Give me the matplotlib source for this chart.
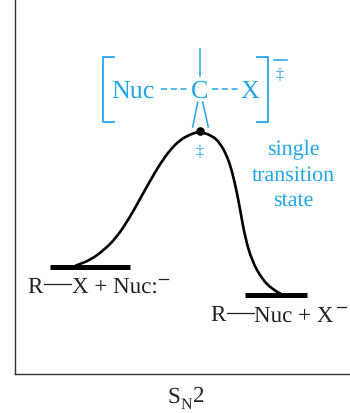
import matplotlib
matplotlib.use("Agg")
import matplotlib.pyplot as plt
import matplotlib.patheffects as pe
from matplotlib.path import Path
from matplotlib.patches import PathPatch

curve_x = [76, 80, 90, 103, 117, 130, 140, 150, 160, 170, 180, 190, 199, 212, 220, 227, 232, 237, 240, 245, 252, 262, 272, 283]
curve_y = [266.5, 265, 261, 252, 238, 218, 200, 182, 165, 151, 141, 135.5, 132.5, 136.5, 144, 157, 172, 194, 210, 238, 262, 280, 290, 296]
reactant_level = (50, 130, 267.5)
product_level = (245, 307, 295.7)
peak = (200, 132)

BLUE = "#23A6E6"
DARK = "#222222"
plt.rcParams["font.family"] = ["Liberation Serif", "DejaVu Serif"]
plt.rcParams["text.hinting"] = "no_hinting"
plt.rcParams["text.hinting_factor"] = 1

fig = plt.figure(figsize=(3.5, 4.14), dpi=100)
ax = fig.add_axes([15.5 / 350, (414 - 374.5) / 414, (350 - 15.5) / 350, 374.5 / 414])
ax.set_xlim(15.5, 350)
ax.set_ylim(374.5, 0)
ax.set_xticks([])
ax.set_yticks([])
for s in ("top", "right"):
    ax.spines[s].set_visible(False)
for s in ("left", "bottom"):
    ax.spines[s].set_linewidth(1.0)
    ax.spines[s].set_color("#333333")

# Energy curve drawn as a smooth quadratic path through the read points
verts = [(curve_x[0], curve_y[0])]
codes = [Path.MOVETO]
for i in range(1, len(curve_x) - 1):
    end = ((curve_x[i] + curve_x[i + 1]) / 2, (curve_y[i] + curve_y[i + 1]) / 2)
    verts += [(curve_x[i], curve_y[i]), end]
    codes += [Path.CURVE3, Path.CURVE3]
verts.append((curve_x[-1], curve_y[-1]))
codes.append(Path.LINETO)
ax.add_patch(PathPatch(Path(verts, codes), fc="none", ec="black", lw=1.9, capstyle="round"))

ax.plot(reactant_level[:2], [reactant_level[2]] * 2, color="black", lw=3.6, solid_capstyle="butt")
ax.plot(product_level[:2], [product_level[2]] * 2, color="black", lw=3.6, solid_capstyle="butt")
ax.plot([peak[0]], [peak[1]], "o", color="black", ms=6.2, mew=0)


def txt(x, y, s, size, color=DARK, ha="center"):
    ax.text(x, y, s, fontsize=size, color=color, ha=ha, va="baseline", clip_on=False)


# Bracketed transition state
txt(111.5, 98, "Nuc", 18.7, BLUE, ha="left")
txt(199.4, 98, "C", 18.7, BLUE)
txt(250, 98, "X", 18.7, BLUE)
for x0, x1 in ((160.5, 187), (212, 238)):
    ax.plot([x0, x1], [90, 90], color=BLUE, lw=1.1, dashes=(4.0, 2.4))
ax.plot([200, 200], [50, 77], color=BLUE, lw=1.1)
ax.plot([197.7, 192.7], [103, 128], color=BLUE, lw=1.1)
ax.plot([202.7, 208.3], [103, 128], color=BLUE, lw=1.1)
ax.plot([114, 102.7, 102.7, 114], [58.3, 58.3, 123.3, 123.3], color=BLUE, lw=1.3)
ax.plot([256.7, 268.3, 268.3, 256.7], [58.3, 58.3, 123.3, 123.3], color=BLUE, lw=1.3)
ax.plot([274, 287], [60.7, 60.7], color=BLUE, lw=1.1)
txt(280, 78, "\u2021", 11.5, BLUE)
txt(200, 155, "\u2021", 11.5, BLUE)

txt(293, 155, "single", 16, BLUE)
txt(293, 180.5, "transition", 16, BLUE)
txt(293, 206, "state", 16, BLUE)

# Species labels
txt(27, 293, "R", 16.3, ha="left")
ax.plot([44, 71], [285, 285], color=DARK, lw=0.9)
txt(72, 293, "X + Nuc:", 16.3, ha="left")
ax.plot([159, 168], [280, 280], color=DARK, lw=0.9)

txt(210, 321.5, "R", 16.3, ha="left")
ax.plot([227, 254], [314, 314], color=DARK, lw=0.9)
txt(254, 321.5, "Nuc + X", 16.3, ha="left")
ax.plot([337, 346], [308, 308], color=DARK, lw=0.9)

# X-axis label
txt(167, 402.5, "S", 16.5, ha="left")
txt(180.5, 409, "N", 11.5, ha="left")
txt(193, 402.5, "2", 16.5, ha="left")

fig.savefig("out.png", dpi=100)
